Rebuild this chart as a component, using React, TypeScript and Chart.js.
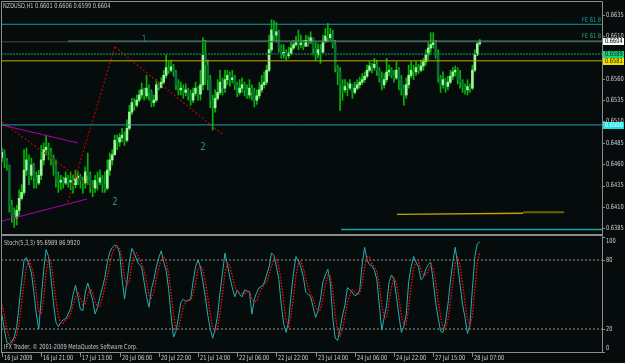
import React, { useEffect, useRef } from "react";
import { Chart, registerables } from "chart.js";
Chart.register(...registerables);

// ---------- data ----------
const HEADER = "NZDUSD,H1 0.6601 0.6606 0.6599 0.6604";
const STOCH_TITLE = "Stoch(5,3,3) 95.6989 86.9920";
const COPYRIGHT = "IFX Trader, \u00a9 2001-2009 MetaQuotes Software Corp.";

const firstOpen = 0.6468;
const closes = [
  0.6474, 0.6465, 0.6459, 0.6412, 0.64, 0.6397, 0.6406, 0.642, 0.6427, 0.6453,
  0.6465, 0.6447, 0.6459, 0.6444, 0.6438, 0.6447, 0.6465, 0.6477, 0.648, 0.6474,
  0.6467, 0.6459, 0.6444, 0.6439, 0.6441, 0.6438, 0.6444, 0.6439, 0.6441, 0.6436,
  0.6444, 0.6446, 0.6441, 0.6438, 0.6451, 0.6447, 0.6436, 0.6432, 0.6441, 0.6439,
  0.6444, 0.6436, 0.6432, 0.6453, 0.6465, 0.6471, 0.6488, 0.6486, 0.6491, 0.6494,
  0.6488, 0.6502, 0.6521, 0.6532, 0.6529, 0.6535, 0.6541, 0.6547, 0.654, 0.6549,
  0.6544, 0.6532, 0.6535, 0.6553, 0.655, 0.6556, 0.6564, 0.6573, 0.657, 0.6574,
  0.6568, 0.6553, 0.6547, 0.6549, 0.6544, 0.6547, 0.6541, 0.6535, 0.6543, 0.6549,
  0.6542, 0.6553, 0.6588, 0.6576, 0.6559, 0.6535, 0.6526, 0.6537, 0.6544, 0.6556,
  0.6549, 0.6559, 0.6564, 0.6559, 0.6561, 0.6553, 0.6544, 0.6549, 0.6553, 0.6547,
  0.6541, 0.6549, 0.6544, 0.6535, 0.654, 0.6547, 0.6553, 0.6556, 0.657, 0.6594,
  0.6617, 0.6611, 0.6615, 0.6596, 0.6588, 0.6591, 0.6587, 0.659, 0.6596, 0.66,
  0.6603, 0.66, 0.6602, 0.6598, 0.6605, 0.6603, 0.6608, 0.6596, 0.6588, 0.6594,
  0.6591, 0.6603, 0.661, 0.6608, 0.6612, 0.66, 0.6573, 0.6568, 0.6553, 0.6547,
  0.6551, 0.6549, 0.6554, 0.6544, 0.6549, 0.6553, 0.6556, 0.6559, 0.6563, 0.657,
  0.6575, 0.6573, 0.6577, 0.657, 0.6561, 0.6553, 0.6559, 0.6568, 0.657, 0.6564,
  0.6561, 0.657, 0.6559, 0.6549, 0.6541, 0.6553, 0.6564, 0.657, 0.6568, 0.6573,
  0.657, 0.6575, 0.658, 0.6588, 0.6596, 0.66, 0.6603, 0.6588, 0.6561, 0.6553,
  0.6559, 0.6551, 0.6556, 0.6563, 0.6568, 0.657, 0.6559, 0.6556, 0.6551, 0.6547,
  0.6551, 0.6549, 0.657, 0.6588, 0.6601, 0.6604,
];
const highs = [
  0.6479, 0.6477, 0.6467, 0.6459, 0.6418, 0.6409, 0.6412, 0.643, 0.6436, 0.6477,
  0.6479, 0.6471, 0.6467, 0.6461, 0.6451, 0.6453, 0.6482, 0.6485, 0.6494, 0.6485,
  0.6479, 0.6471, 0.6465, 0.6451, 0.6447, 0.6445, 0.6451, 0.6447, 0.6451, 0.6447,
  0.6453, 0.6451, 0.6448, 0.6445, 0.6457, 0.6473, 0.6451, 0.6441, 0.6447, 0.6451,
  0.6453, 0.6447, 0.6451, 0.6465, 0.6473, 0.6477, 0.6494, 0.6494, 0.6496, 0.6502,
  0.6498, 0.6512, 0.6529, 0.6537, 0.6537, 0.6541, 0.6547, 0.6555, 0.6549, 0.6564,
  0.6553, 0.6547, 0.6541, 0.6559, 0.6556, 0.6561, 0.657, 0.6588, 0.658, 0.6582,
  0.6577, 0.657, 0.6559, 0.6556, 0.6553, 0.6554, 0.6549, 0.6547, 0.6549, 0.6556,
  0.6551, 0.657, 0.6608, 0.6605, 0.6582, 0.6564, 0.6541, 0.6547, 0.6559, 0.657,
  0.6561, 0.657, 0.657, 0.6568, 0.657, 0.6564, 0.6556, 0.6559, 0.6561, 0.6556,
  0.6553, 0.6559, 0.6553, 0.6549, 0.6547, 0.6556, 0.6564, 0.6568, 0.6576, 0.6611,
  0.6629, 0.6628, 0.6626, 0.6617, 0.66, 0.66, 0.6594, 0.6597, 0.6603, 0.6605,
  0.661, 0.6617, 0.6611, 0.6605, 0.6611, 0.661, 0.6615, 0.6608, 0.6603, 0.6601,
  0.66, 0.6611, 0.6619, 0.6625, 0.6619, 0.6617, 0.6605, 0.6576, 0.6573, 0.6559,
  0.6559, 0.6556, 0.6559, 0.6553, 0.6556, 0.6559, 0.6562, 0.6566, 0.6568, 0.6576,
  0.658, 0.6578, 0.6584, 0.6582, 0.6573, 0.6568, 0.6566, 0.6584, 0.6576, 0.6573,
  0.657, 0.658, 0.6573, 0.6564, 0.6553, 0.6561, 0.6576, 0.658, 0.6576, 0.658,
  0.6577, 0.6582, 0.6584, 0.6594, 0.6603, 0.6614, 0.6614, 0.6605, 0.6594, 0.6564,
  0.6568, 0.6561, 0.6563, 0.657, 0.6573, 0.6575, 0.6573, 0.657, 0.6559, 0.6554,
  0.6559, 0.6554, 0.6576, 0.6594, 0.6603, 0.6606,
];
const lows = [
  0.6463, 0.6456, 0.6453, 0.6404, 0.6392, 0.6386, 0.6389, 0.64, 0.6418, 0.6424,
  0.6447, 0.6436, 0.6442, 0.6432, 0.6432, 0.6436, 0.6442, 0.6459, 0.6471, 0.6465,
  0.6459, 0.6447, 0.6433, 0.6427, 0.643, 0.6432, 0.6436, 0.6433, 0.643, 0.6426,
  0.6432, 0.6436, 0.6432, 0.6426, 0.6432, 0.6436, 0.6427, 0.6422, 0.6427, 0.643,
  0.6436, 0.6427, 0.6427, 0.643, 0.6447, 0.6459, 0.6471, 0.6477, 0.6481, 0.6486,
  0.6482, 0.6486, 0.65, 0.6518, 0.6523, 0.6527, 0.6533, 0.6537, 0.6535, 0.6537,
  0.6535, 0.6527, 0.6528, 0.6533, 0.6547, 0.6549, 0.6554, 0.6561, 0.6566, 0.6568,
  0.6563, 0.6547, 0.6541, 0.6541, 0.6537, 0.654, 0.6535, 0.6529, 0.6532, 0.654,
  0.6535, 0.6535, 0.6547, 0.6553, 0.6547, 0.6526, 0.65, 0.6521, 0.6535, 0.6541,
  0.6541, 0.6544, 0.6553, 0.6551, 0.6555, 0.6547, 0.6539, 0.6541, 0.6544, 0.654,
  0.6537, 0.6537, 0.6535, 0.6527, 0.653, 0.6537, 0.6544, 0.6549, 0.6553, 0.6568,
  0.6591, 0.6605, 0.6603, 0.6591, 0.6584, 0.6584, 0.6582, 0.6584, 0.6588, 0.6594,
  0.6598, 0.6594, 0.6596, 0.6594, 0.6598, 0.6598, 0.6601, 0.6588, 0.6582, 0.6584,
  0.6578, 0.6591, 0.6603, 0.6603, 0.6605, 0.6596, 0.6568, 0.6553, 0.6523, 0.6535,
  0.6544, 0.654, 0.6547, 0.6537, 0.6542, 0.6547, 0.6549, 0.6553, 0.6556, 0.6561,
  0.6568, 0.6567, 0.657, 0.6564, 0.6556, 0.6547, 0.6549, 0.6556, 0.6563, 0.6561,
  0.6556, 0.6559, 0.6547, 0.6541, 0.6529, 0.6537, 0.6549, 0.6561, 0.6559, 0.6564,
  0.6566, 0.6568, 0.657, 0.6576, 0.6582, 0.6591, 0.6596, 0.6584, 0.6556, 0.6544,
  0.6549, 0.6544, 0.6547, 0.6554, 0.6559, 0.6563, 0.6554, 0.6549, 0.6544, 0.6542,
  0.6541, 0.6544, 0.6547, 0.6568, 0.6587, 0.6599,
];
const stochMain = [
  32, 19, 8, 7, 9, 13, 22, 41, 61, 80,
  82, 76, 69, 52, 33, 20, 46, 71, 89, 83,
  64, 43, 26, 22, 26, 28, 29, 33, 38, 50,
  58, 48, 37, 36, 52, 60, 53, 45, 33, 39,
  48, 56, 65, 78, 87, 91, 93, 92, 86, 64,
  46, 61, 78, 90, 86, 80, 76, 74, 61, 48,
  39, 55, 63, 74, 82, 88, 78, 71, 55, 32,
  13, 18, 30, 43, 46, 44, 45, 46, 61, 74,
  80, 74, 61, 48, 32, 20, 12, 20, 32, 52,
  69, 86, 76, 65, 56, 48, 54, 50, 48, 54,
  53, 52, 33, 46, 52, 56, 57, 60, 67, 74,
  86, 84, 74, 63, 41, 24, 17, 27, 50, 69,
  83, 79, 74, 65, 52, 50, 48, 39, 30, 36,
  46, 61, 67, 72, 60, 30, 12, 10, 20, 32,
  41, 56, 54, 52, 49, 50, 54, 76, 91, 80,
  76, 75, 71, 63, 41, 19, 30, 41, 61, 67,
  63, 48, 32, 17, 22, 33, 61, 74, 83, 78,
  74, 63, 65, 72, 76, 78, 62, 43, 30, 18,
  17, 26, 41, 61, 78, 91, 76, 58, 41, 30,
  16, 24, 55, 83, 94, 95.6989,
];
const stochSignal = [
  41, 32, 20, 12, 8, 10, 15, 25, 42, 60,
  74, 79, 75, 66, 51, 35, 33, 46, 69, 81,
  79, 63, 45, 31, 25, 25, 28, 30, 33, 41,
  48, 52, 47, 41, 42, 49, 55, 52, 44, 39,
  40, 47, 57, 66, 76, 86, 90, 92, 90, 81,
  65, 58, 62, 76, 85, 86, 81, 77, 71, 61,
  49, 47, 52, 64, 73, 81, 83, 79, 68, 52,
  33, 20, 20, 30, 39, 44, 45, 45, 50, 60,
  72, 75, 72, 61, 47, 33, 21, 18, 21, 34,
  51, 69, 77, 75, 66, 57, 53, 51, 51, 51,
  52, 53, 46, 44, 44, 51, 55, 58, 61, 67,
  75, 81, 81, 74, 60, 43, 27, 22, 32, 48,
  67, 77, 79, 73, 64, 56, 50, 46, 39, 35,
  37, 47, 58, 67, 66, 54, 33, 18, 14, 20,
  31, 43, 50, 54, 52, 50, 51, 60, 74, 83,
  83, 77, 74, 70, 59, 41, 30, 30, 44, 57,
  64, 60, 47, 32, 23, 24, 39, 57, 73, 78,
  78, 72, 67, 67, 71, 75, 73, 61, 45, 31,
  21, 20, 28, 43, 60, 77, 82, 75, 59, 43,
  29, 23, 32, 54, 77, 86.992,
];
const priceTicks = [0.6635, 0.661, 0.6585, 0.656, 0.6535, 0.651, 0.6485, 0.646, 0.6435, 0.641, 0.6385];
const stochLevels = [80, 20];
const stochTicks = [100, 80, 20, 0];
const timeLabels = [
  "16 Jul 2009", "16 Jul 21:00", "17 Jul 13:00", "20 Jul 06:00", "20 Jul 22:00",
  "21 Jul 14:00", "22 Jul 06:00", "22 Jul 22:00", "23 Jul 14:00", "24 Jul 06:00",
  "24 Jul 22:00", "27 Jul 15:00", "28 Jul 07:00",
];
const timeLabelBars = [0, 16, 32, 48, 64, 80, 96, 112, 128, 144, 160, 176, 192];

// chart objects: [barIndex, price] anchor pairs
const feUpper = [[-0.41, 0.66238], [244.9, 0.66238]];
const feLower = [[26.9, 0.6604], [244.9, 0.6604]];
const bidLine = [[-0.41, 0.66032], [244.9, 0.66032]];
const greenLine = [[-0.41, 0.6589], [244.9, 0.6589]];
const yellowLine = [[-0.41, 0.6581], [244.9, 0.6581]];
const cyanLine = [[-0.41, 0.6506], [244.9, 0.6506]];
const cyanLow = [[138.4, 0.63836], [244.9, 0.63836]];
const yellowLow = [[161.2, 0.64014], [212.7, 0.64026]];
const oliveLow = [[212.7, 0.64037], [229.4, 0.64037]];
const redA = [[0, 0.65094], [38, 0.64298]];
const redB = [[26.9, 0.64158], [46.1, 0.65972]];
const redC = [[46.1, 0.65972], [89.8, 0.64954]];
const magentaA = [[0, 0.65059], [31, 0.64848]];
const magentaB = [[0, 0.63935], [34.7, 0.64193]];
const waveLabels: [string, number, number][] = [["1", 58, 0.66056], ["2", 82, 0.64801], ["2", 46.1, 0.6415]];
const axisMarkers: [number, string, string][] = [
  [0.6604, "#ffffff", "#000000"],
  [0.6589, "#19d27a", "#002010"],
  [0.6581, "#eedd00", "#201c00"],
  [0.6506, "#19e6e6", "#ffffff"],
];

const X_MIN = -0.41;
const X_MAX = 244.9;
const P_MIN = 0.63795;
const P_MAX = 0.664986;
const S_MIN = 0;
const S_MAX = 100.87;

// ---------- helpers ----------
const FONT = '"DejaVu Sans"';
function drawText(ctx: CanvasRenderingContext2D, s: string, x: number, y: number, color: string, align: CanvasTextAlign = "left", size = 7, sx = 0.72) {
  ctx.save();
  ctx.font = `${size}px ${FONT}`;
  ctx.fillStyle = color;
  ctx.textBaseline = "middle";
  ctx.textAlign = align;
  ctx.translate(x, y);
  ctx.scale(sx, 1);
  ctx.fillText(s, 0, 0);
  ctx.restore();
}

const pts = (a: number[][]) => a.map(([x, y]) => ({ x, y }));
const seg = (data: number[][], color: string, dash: number[] = [], width = 1, order = 5) => ({
  type: "line" as const,
  data: pts(data),
  borderColor: color,
  borderWidth: width,
  borderDash: dash,
  pointRadius: 0,
  fill: false,
  tension: 0,
  order,
});

const FRAME = "#8c8c8c";
const AXIS_TEXT = "#d2d2d2";

export default function App() {
  const mainRef = useRef<HTMLCanvasElement | null>(null);
  const subRef = useRef<HTMLCanvasElement | null>(null);

  useEffect(() => {
    const opens = [firstOpen, ...closes.slice(0, -1)];
    const idx = closes.map((_, i) => i);
    const wickData = idx.map((i) => ({ x: i, y: [lows[i], highs[i]] }));
    const bodyData = idx.map((i) => ({ x: i, y: [opens[i], closes[i]] }));
    const bodyColors = idx.map((i) => (closes[i] >= opens[i] ? "#9cf79c" : "#0b6a36"));

    const mainOverlay = {
      id: "mainOverlay",
      afterDraw(chart: any) {
        const ctx: CanvasRenderingContext2D = chart.ctx;
        const xs = chart.scales.x;
        const ys = chart.scales.y;
        ctx.save();
        ctx.strokeStyle = FRAME;
        ctx.lineWidth = 1;
        ctx.beginPath();
        ctx.moveTo(1.5, 235);
        ctx.lineTo(1.5, 1.5);
        ctx.lineTo(602.5, 1.5);
        ctx.lineTo(602.5, 235);
        ctx.moveTo(1, 234.5);
        ctx.lineTo(603, 234.5);
        ctx.stroke();
        priceTicks.forEach((p) => {
          const y = ys.getPixelForValue(p);
          ctx.beginPath();
          ctx.moveTo(602, Math.round(y) + 0.5);
          ctx.lineTo(605, Math.round(y) + 0.5);
          ctx.stroke();
          drawText(ctx, p.toFixed(4), 606, y, AXIS_TEXT);
        });
        axisMarkers.forEach(([p, bg, fg]) => {
          const y = ys.getPixelForValue(p);
          ctx.fillStyle = bg;
          ctx.fillRect(603, Math.round(y) - 3, 21, 7);
          drawText(ctx, p.toFixed(4), 605, y + 0.5, fg);
        });
        drawText(ctx, HEADER, 3, 6.5, "#c8c8c8");
        drawText(ctx, "FE 61.8", 601, ys.getPixelForValue(feUpper[0][1]) - 4.5, "#1aa5a5", "right");
        drawText(ctx, "FE 61.8", 601, ys.getPixelForValue(feLower[0][1]) - 4.5, "#2fa878", "right");
        waveLabels.forEach(([t, i, p]) => {
          drawText(ctx, t, xs.getPixelForValue(i), ys.getPixelForValue(p), t === "1" ? "#1a8c8c" : "#1f9a8a", "center", t === "1" ? 8 : 10, 0.85);
        });
        ctx.restore();
      },
    };

    const main = new Chart(mainRef.current as HTMLCanvasElement, {
      type: "bar",
      data: {
        datasets: [
          {
            type: "bar",
            data: wickData as any,
            backgroundColor: "#00b800",
            barThickness: 1,
            grouped: false,
            borderWidth: 0,
            order: 20,
          } as any,
          {
            type: "bar",
            data: bodyData as any,
            backgroundColor: bodyColors,
            barThickness: 2,
            grouped: false,
            borderWidth: 0,
            order: 19,
          } as any,
          seg(bidLine, "#4a4a4a"),
          seg(feUpper, "#139d9d"),
          seg(feLower, "#62c9a0"),
          seg(greenLine, "#0f7a42", [2, 1], 1.5),
          seg(yellowLine, "#c4b200"),
          seg(cyanLine, "#16a6a6"),
          seg(cyanLow, "#16a6a6", [], 1.4),
          seg(yellowLow, "#b8a800", [], 1.3),
          seg(oliveLow, "#6e6400", [], 2),
          seg(redA, "#c00000", [2, 2], 1.2),
          seg(redB, "#c00000", [2, 2], 1.2),
          seg(redC, "#c00000", [2, 2], 1.2),
          seg(magentaA, "#b000b0"),
          seg(magentaB, "#b000b0"),
        ] as any,
      },
      options: {
        animation: false,
        responsive: false,
        devicePixelRatio: 1,
        events: [],
        layout: { padding: { left: 1, right: 23, top: 2, bottom: 2 } },
        scales: {
          x: { type: "linear", min: X_MIN, max: X_MAX, display: false, offset: false },
          y: { type: "linear", min: P_MIN, max: P_MAX, display: false },
        },
        plugins: { legend: { display: false }, tooltip: { enabled: false } },
      } as any,
      plugins: [mainOverlay],
    });

    const subOverlay = {
      id: "subOverlay",
      afterDraw(chart: any) {
        const ctx: CanvasRenderingContext2D = chart.ctx;
        const xs = chart.scales.x;
        const ys = chart.scales.y;
        ctx.save();
        ctx.strokeStyle = FRAME;
        ctx.lineWidth = 1;
        ctx.beginPath();
        ctx.moveTo(1, 0.5);
        ctx.lineTo(603, 0.5);
        ctx.moveTo(1.5, 0);
        ctx.lineTo(1.5, 117.5);
        ctx.moveTo(602.5, 0);
        ctx.lineTo(602.5, 117.5);
        ctx.moveTo(1, 117.5);
        ctx.lineTo(603, 117.5);
        ctx.stroke();
        stochTicks.forEach((v) => {
          const y = ys.getPixelForValue(v);
          ctx.beginPath();
          ctx.moveTo(602, Math.round(y) + 0.5);
          ctx.lineTo(605, Math.round(y) + 0.5);
          ctx.stroke();
          drawText(ctx, String(v), 606, Math.min(113, Math.max(6, y)), AXIS_TEXT);
        });
        timeLabels.forEach((t, k) => {
          const x = Math.round(xs.getPixelForValue(timeLabelBars[k])) + 0.5;
          ctx.beginPath();
          ctx.moveTo(x, 117);
          ctx.lineTo(x, 122);
          ctx.stroke();
          drawText(ctx, t, x + 1.5, 123, AXIS_TEXT);
        });
        drawText(ctx, STOCH_TITLE, 4, 8, "#c8c8c8");
        drawText(ctx, COPYRIGHT, 4, 112, "#c8c8c8");
        ctx.restore();
      },
    };

    const sub = new Chart(subRef.current as HTMLCanvasElement, {
      type: "line",
      data: {
        datasets: [
          seg([[X_MIN, stochLevels[0]], [X_MAX, stochLevels[0]]], "#9a9a9a", [2, 2], 1, 9),
          seg([[X_MIN, stochLevels[1]], [X_MAX, stochLevels[1]]], "#9a9a9a", [2, 2], 1, 9),
          {
            data: stochMain.map((v, i) => ({ x: i, y: v })),
            borderColor: "#27b0b0",
            borderWidth: 1,
            pointRadius: 0,
            tension: 0,
            order: 3,
          },
          {
            data: stochSignal.map((v, i) => ({ x: i, y: v })),
            borderColor: "#ff1010",
            borderWidth: 1.3,
            borderDash: [1.5, 1.5],
            pointRadius: 0,
            tension: 0,
            order: 2,
          },
        ] as any,
      },
      options: {
        animation: false,
        responsive: false,
        devicePixelRatio: 1,
        events: [],
        layout: { padding: { left: 1, right: 23, top: 1, bottom: 11 } },
        scales: {
          x: { type: "linear", min: X_MIN, max: X_MAX, display: false },
          y: { type: "linear", min: S_MIN, max: S_MAX, display: false },
        },
        plugins: { legend: { display: false }, tooltip: { enabled: false } },
      } as any,
      plugins: [subOverlay],
    });

    return () => {
      main.destroy();
      sub.destroy();
    };
  }, []);

  return (
    <div style={{ position: "fixed", left: 0, top: 0, width: 625, height: 363, background: "#060b0b", overflow: "hidden" }}>
      <canvas ref={mainRef} width={625} height={235} style={{ position: "absolute", left: 0, top: 0, display: "block" }} />
      <canvas ref={subRef} width={625} height={128} style={{ position: "absolute", left: 0, top: 235, display: "block" }} />
    </div>
  );
}
